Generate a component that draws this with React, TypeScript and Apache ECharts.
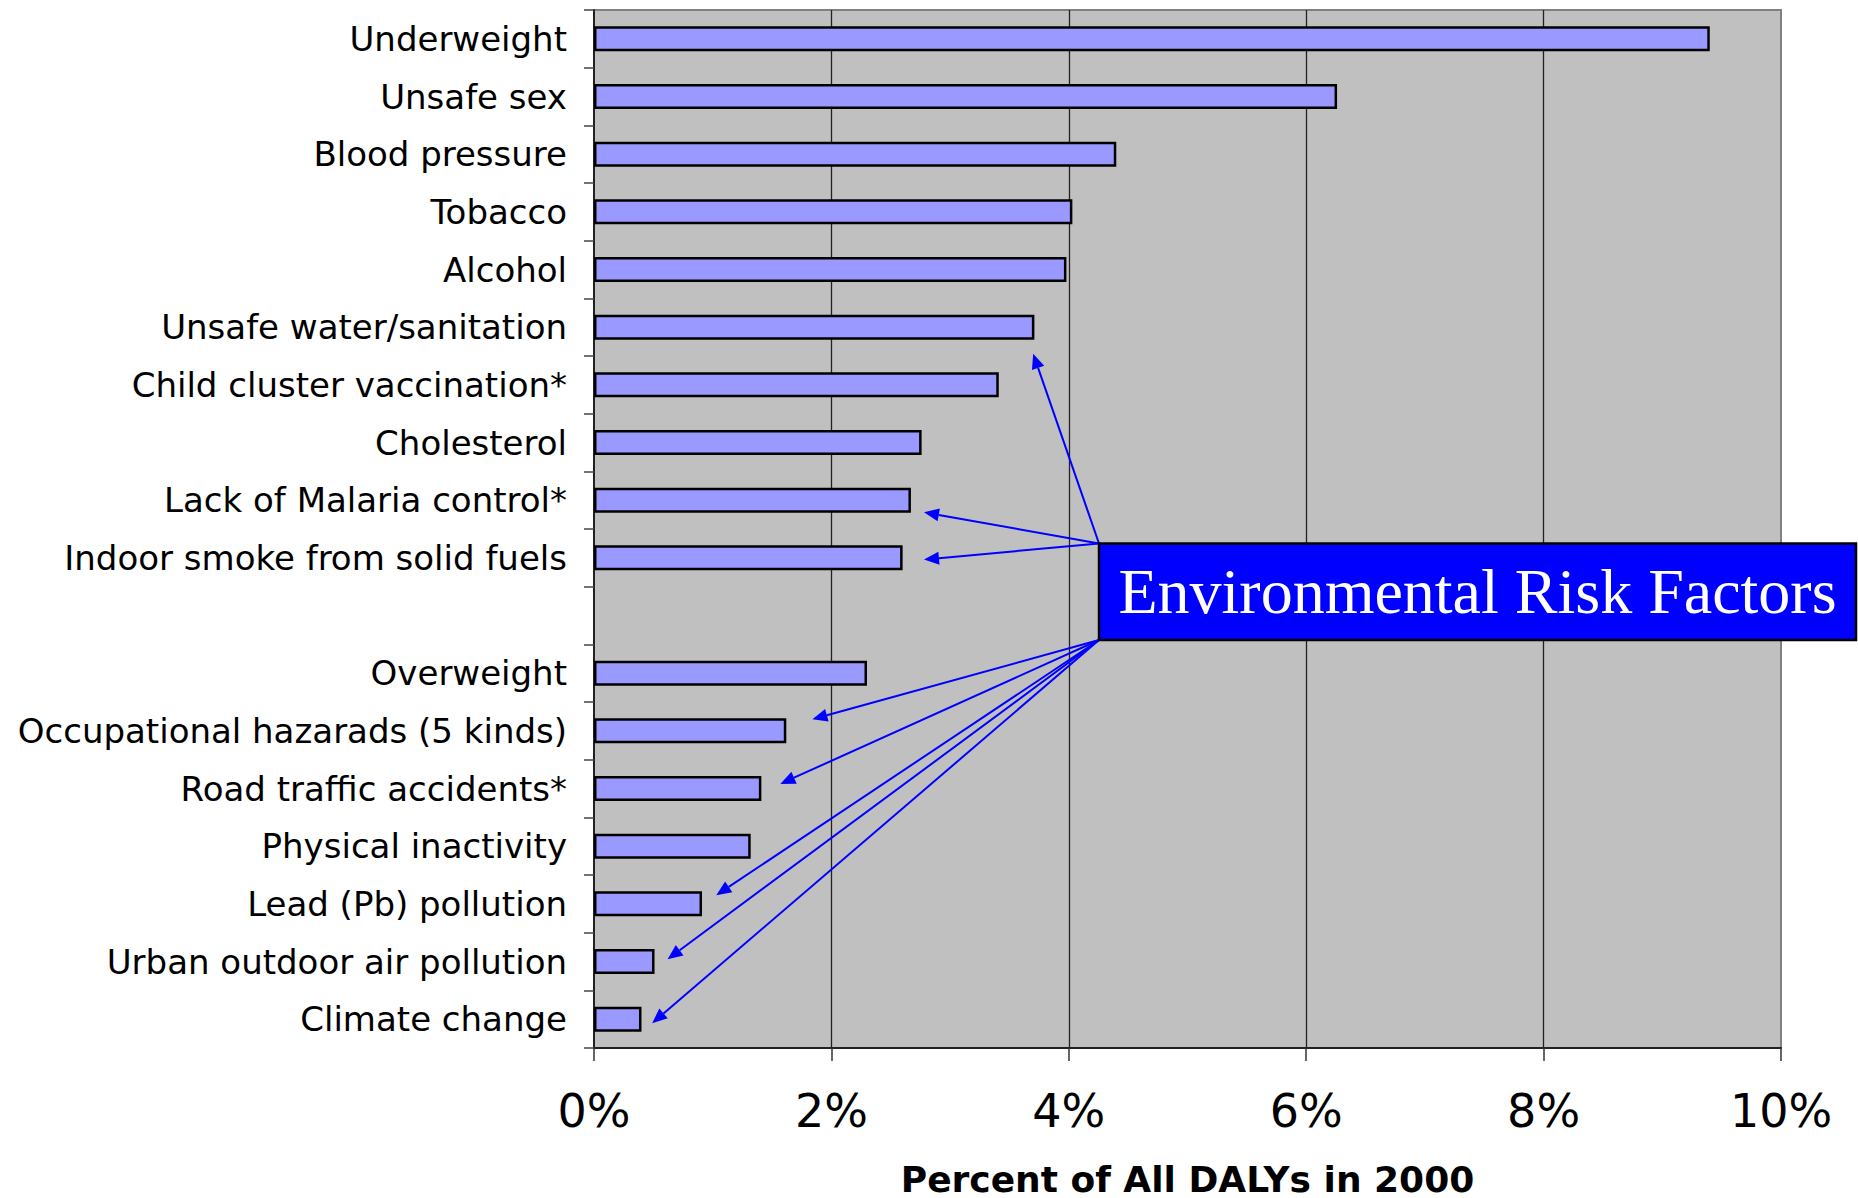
import React, { useEffect, useRef } from "react";
import * as echarts from "echarts";

// Risk factors, top to bottom; the empty entry is the spacer row between the two groups.
const categories: string[] = [
  "Underweight",
  "Unsafe sex",
  "Blood pressure",
  "Tobacco",
  "Alcohol",
  "Unsafe water/sanitation",
  "Child cluster vaccination*",
  "Cholesterol",
  "Lack of Malaria control*",
  "Indoor smoke from solid fuels",
  "",
  "Overweight",
  "Occupational hazarads (5 kinds)",
  "Road traffic accidents*",
  "Physical inactivity",
  "Lead (Pb) pollution",
  "Urban outdoor air pollution",
  "Climate change",
];

// Share of all DALYs in 2000, in percent.
const dalyPercent: (number | null)[] = [
  9.4, 6.26, 4.4, 4.03, 3.98, 3.71, 3.41, 2.76, 2.67, 2.6, null, 2.3, 1.62, 1.41, 1.32, 0.91, 0.51, 0.4,
];

const xMin = 0;
const xMax = 10;
const xStep = 2;
const xAxisTitle = "Percent of All DALYs in 2000";
const calloutText = "Environmental Risk Factors";

// Factors the callout points at.
const environmentalFactors: string[] = [
  "Unsafe water/sanitation",
  "Lack of Malaria control*",
  "Indoor smoke from solid fuels",
  "Occupational hazarads (5 kinds)",
  "Road traffic accidents*",
  "Lead (Pb) pollution",
  "Urban outdoor air pollution",
  "Climate change",
];

// Arrow tip placement: x in percent, y as an offset from the row centre in row heights,
// and which corner of the callout box the arrow leaves from.
const arrowTipX = [3.7, 2.78, 2.78, 1.84, 1.57, 1.03, 0.62, 0.49];
const arrowTipRowOffset = [0.46, 0.21, 0.03, -0.2, -0.08, -0.15, -0.04, 0.07];
const arrowFrom: ("top" | "bottom")[] = ["top", "top", "top", "bottom", "bottom", "bottom", "bottom", "bottom"];

const W = 1858;
const H = 1198;
const GRID = { left: 594, top: 10, width: 1187, height: 1038 };
const BOX = { x: 1099, y: 543.5, w: 757, h: 96.5 };
const BLUE = "#0000FF";

export default function App() {
  const ref = useRef<HTMLDivElement>(null);

  useEffect(() => {
    if (!ref.current) return;
    const chart = echarts.init(ref.current, null, { renderer: "svg", width: W, height: H });

    chart.setOption({
      animation: false,
      backgroundColor: "#FFFFFF",
      grid: {
        left: GRID.left,
        top: GRID.top,
        width: GRID.width,
        height: GRID.height,
        containLabel: false,
        outerBoundsMode: "none",
        show: true,
        backgroundColor: "#C0C0C0",
        borderColor: "#808080",
        borderWidth: 2,
      },
      xAxis: {
        type: "value",
        min: xMin,
        max: xMax,
        interval: xStep,
        name: xAxisTitle,
        nameLocation: "middle",
        nameGap: 113,
        nameTextStyle: {
          fontFamily: "DejaVu Sans",
          fontWeight: "bold",
          fontSize: 36,
          color: "#000",
        },
        axisLine: { show: true, lineStyle: { color: "#222", width: 2 } },
        axisTick: { show: true, length: 13, lineStyle: { color: "#333", width: 1.5 } },
        axisLabel: {
          formatter: "{value}%",
          fontFamily: "DejaVu Sans",
          fontSize: 46,
          color: "#000",
          margin: 40,
        },
        splitLine: {
          show: true,
          showMinLine: false,
          showMaxLine: false,
          lineStyle: { color: "#222", width: 1.3 },
        },
      },
      yAxis: {
        type: "category",
        data: categories,
        inverse: true,
        axisLine: { show: true, lineStyle: { color: "#222", width: 2 } },
        axisTick: { show: true, length: 10, interval: 0, lineStyle: { color: "#444", width: 1.5 } },
        axisLabel: {
          interval: 0,
          fontFamily: "DejaVu Sans",
          fontSize: 34,
          color: "#000",
          margin: 27,
        },
        splitLine: { show: false },
      },
      series: [
        {
          type: "bar",
          data: dalyPercent,
          barWidth: 25,
          itemStyle: { color: "#9999FF", borderColor: "#000", borderWidth: 2.5 },
        },
      ],
    });

    // Callout box with arrows pointing at the environmental factors.
    const band = GRID.height / categories.length;
    const graphics: any[] = [];
    environmentalFactors.forEach((name, i) => {
      const p = chart.convertToPixel({ gridIndex: 0 }, [arrowTipX[i], name]) as number[];
      const tx = p[0];
      const ty = p[1] + arrowTipRowOffset[i] * band;
      const sx = BOX.x;
      const sy = arrowFrom[i] === "top" ? BOX.y : BOX.y + BOX.h;
      const dx = tx - sx;
      const dy = ty - sy;
      const len = Math.sqrt(dx * dx + dy * dy);
      const ux = dx / len;
      const uy = dy / len;
      const headLen = 15;
      const headHalf = 6.5;
      const bx = tx - ux * headLen;
      const by = ty - uy * headLen;
      graphics.push({
        type: "line",
        z: 100,
        shape: { x1: sx, y1: sy, x2: bx, y2: by },
        style: { stroke: BLUE, lineWidth: 2 },
      });
      graphics.push({
        type: "polygon",
        z: 100,
        shape: {
          points: [
            [tx, ty],
            [bx - uy * headHalf, by + ux * headHalf],
            [bx + uy * headHalf, by - ux * headHalf],
          ],
        },
        style: { fill: BLUE },
      });
    });
    graphics.push({
      type: "rect",
      z: 101,
      shape: { x: BOX.x, y: BOX.y, width: BOX.w, height: BOX.h },
      style: { fill: BLUE, stroke: "#000", lineWidth: 2.5 },
    });
    graphics.push({
      type: "text",
      z: 102,
      x: BOX.x + BOX.w / 2,
      y: BOX.y + BOX.h / 2,
      style: {
        text: calloutText,
        fill: "#FFFFFF",
        fontFamily: "Liberation Serif",
        fontSize: 64,
        align: "center",
        verticalAlign: "middle",
      },
    });
    chart.setOption({ graphic: graphics });

    return () => chart.dispose();
  }, []);

  return (
    <div
      ref={ref}
      style={{ position: "absolute", left: 0, top: 0, width: W, height: H }}
    />
  );
}
